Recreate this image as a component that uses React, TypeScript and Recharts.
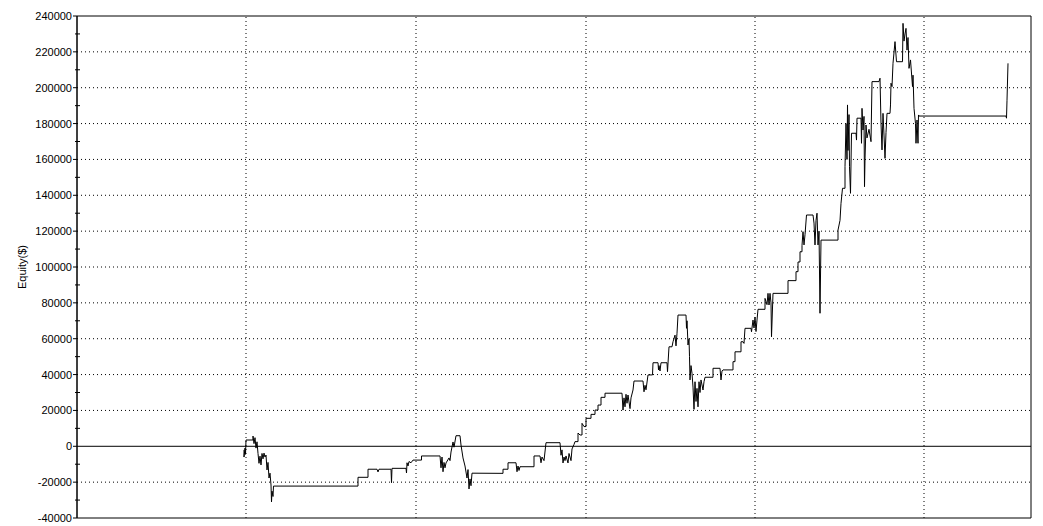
import React from 'react';
import {
  LineChart,
  Line,
  XAxis,
  YAxis,
  CartesianGrid,
  ReferenceLine,
  ReferenceArea,
} from 'recharts';

// [bar, equity $]
const equityPoints: [number, number][] = [
  [167, -2000], [167, -6000], [168, -1000], [168.5, -4500], [169, 3500], [176, 3500],
  [176, 5700], [177, 1500], [178, 4800], [179, -1000], [180, 2500], [181, -4000],
  [182, -9500], [183, -5500], [184, -10400], [185, -4000], [186, -7000], [187, -3800],
  [188, -6000], [189, -4900], [190, -13200], [191, -9000], [192, -17700], [193, -15000],
  [194, -21600], [194.5, -31000], [195, -25000], [196, -28000], [196.5, -22200],
  [281, -22200], [281, -17300], [291, -17300], [291, -12800], [300, -12800], [301, -14300],
  [302, -12800], [314, -12800], [314.5, -20300], [315, -12300], [329, -12300], [329.5, -14900],
  [330, -9200], [331, -11000], [332, -8500], [334, -9200], [336, -7700], [344.5, -7700],
  [344.5, -5400], [363, -5400], [364, -12000], [365, -6000], [366, -14200], [367, -9000],
  [368, -12000], [369, -9300], [372, -6500], [373, -8000], [374, -3200], [376, 2400],
  [377, -500], [379, 5900], [383, 5900], [384, 700], [386, -6500], [388, -11000],
  [390, -17700], [391, -13000], [392, -23800], [393, -18200], [394, -22000], [395, -15000],
  [426, -15100], [426, -12800], [431, -12800], [431, -9200], [439, -9200], [440, -14200],
  [441, -11000], [442, -13500], [443, -11400], [457, -11400], [457, -5400], [463, -5400],
  [464, -9200], [465, -6000], [467, -8000], [469, 2000], [483, 2000], [484, -5000],
  [485, -2000], [486, -9300], [487, -6000], [488, -8000], [489, -5400], [491, -9300],
  [492, -4000], [494, -8000], [495, -1500], [497, 1000], [498, 2600], [501, 2600],
  [501, 7400], [503, 6300], [505, 6300], [505, 12800], [507, 11000], [509, 11000],
  [509, 15600], [514, 15600], [514, 17800], [518, 17800], [518, 20200], [521, 20200],
  [521, 23000], [524, 23000], [524, 27300], [528, 27300], [528, 29600], [545, 29600], [546, 20200],
  [547, 27000], [548, 22000], [549, 29000], [550, 24000], [551, 28600], [553, 21000],
  [554, 27000], [556, 31400], [557, 36400], [566, 36400], [567, 30400], [568, 34000],
  [569, 31500], [571, 39800], [575.5, 39800], [576, 46600], [581, 46600], [581.5, 42600],
  [582, 45000], [583, 42000], [584, 46600], [590, 46600], [590.5, 41600], [592, 55500],
  [595, 55500], [596, 58300], [598, 62000], [599, 56000], [600, 63000], [601, 73200],
  [609, 73200], [609.5, 65800], [610, 70000], [611, 56500], [612, 60000], [612.5, 50000],
  [613, 37000], [614, 45000], [615, 40700], [616, 33000], [617, 20600], [618, 36000],
  [619, 25000], [620, 32300], [621, 22000], [622, 36000], [623, 30000], [624, 37000],
  [626, 31400], [627, 36000], [628, 38500], [636, 38500], [636, 43500], [643, 43500],
  [644, 37000], [645, 42000], [646, 42600], [656, 42600], [656, 47200], [658, 47200],
  [658, 52700], [664, 52700], [664, 58300], [666, 58300], [667, 57400], [668, 65800],
  [674, 65800], [674.5, 63900],
  [676, 70400], [677, 66000], [678, 72000], [679, 64000], [680, 70400], [681, 76400],
  [688, 76400], [688, 82500], [690, 79000], [691, 85300], [692, 78800], [693, 85300],
  [694, 80000], [694.5, 61100], [696, 85300], [711, 85300], [711, 92400], [719, 92400],
  [719, 97400], [721, 97400], [721, 102800], [723, 102800], [723, 108500], [725, 108500],
  [725, 112000], [726, 119700], [727, 112300],
  [728, 118000], [729.5, 129000], [736, 129000], [737, 124500], [738, 112300], [739, 126000],
  [740, 130000], [741, 112300], [742, 120000], [743, 74200], [744, 115000], [761, 115000],
  [761, 120600], [763, 126000], [764, 135500], [765.5, 143900], [768, 143900], [768, 156000],
  [769, 180000], [770, 160000], [770.5, 190400], [771, 165000], [772, 185000], [772.5, 156000],
  [773.5, 141100], [774.5, 174600], [779, 174600], [779.5, 170800], [780, 183000], [784, 183000],
  [784.5, 169000], [785, 188500], [786, 176400], [787, 184000], [787.5, 144800], [788, 160000],
  [789, 179200], [790, 172000], [792, 176800], [794, 169900], [795, 203400], [802, 203400],
  [803, 205300], [804, 180000], [805, 165300], [806, 185700], [807, 173600], [808, 160600],
  [809, 175000], [810, 185700], [813, 185700], [813.5, 190400], [814, 202500], [815, 200600],
  [816, 213600], [818, 225700], [819.5, 214500], [825.5, 214500], [826, 235900], [827, 226000],
  [828, 230000], [829, 233100], [830, 221000], [831, 228000], [832, 210800], [833.5, 215500],
  [835.5, 200600], [836, 207000], [837, 188500], [838.5, 180000], [839, 169000], [840, 182000],
  [841, 169000], [841.5, 184800], [842, 184200], [929, 184200], [929.5, 183000], [930, 193000],
  [931, 213600],
];

const xDomain: [number, number] = [0, 954];
const xTicks = [169, 339, 509, 678, 847];
const yTicks = [
  -40000, -30000, -20000, -10000, 0, 10000, 20000, 30000, 40000, 50000, 60000, 70000,
  80000, 90000, 100000, 110000, 120000, 130000, 140000, 150000, 160000, 170000, 180000,
  190000, 200000, 210000, 220000, 230000, 240000,
];
const gridValues = [
  -20000, 20000, 40000, 60000, 80000, 100000, 120000, 140000, 160000, 180000, 200000, 220000,
];

const data = equityPoints.map(([bar, equity]) => ({ bar, equity }));

const FONT = '"Liberation Sans", Arial, sans-serif';

const EquityTick = (props: any) => {
  const { x, y, payload } = props;
  const v = payload.value as number;
  const major = v % 20000 === 0;
  return (
    <g>
      {major ? (
        <line x1={x - 4} x2={x} y1={y} y2={y} stroke="#000" />
      ) : (
        <line x1={x - 2} x2={x + 3} y1={y} y2={y} stroke="#000" />
      )}
      {major && (
        <text x={x - 5} y={y} dy={4} textAnchor="end" fontSize={11} fontFamily={FONT} fill="#000">
          {v}
        </text>
      )}
    </g>
  );
};

export default function App() {
  return (
    <div style={{ width: 1043, height: 526, background: '#fff' }}>
      <style>{'body{margin:0}'}</style>
      <LineChart
        width={1043}
        height={526}
        data={data}
        margin={{ top: 16, right: 12, bottom: 8, left: 0 }}
      >
        <CartesianGrid
          stroke="#000"
          strokeDasharray="1 3"
          vertical={false}
          horizontalValues={gridValues}
        />
        <XAxis
          dataKey="bar"
          type="number"
          domain={xDomain}
          ticks={xTicks}
          tick={false}
          tickLine={false}
          axisLine={false}
          height={0}
        />
        <YAxis
          type="number"
          domain={[-40000, 240000]}
          ticks={yTicks}
          interval={0}
          width={77}
          tickSize={0}
          tickMargin={0}
          tickLine={false}
          axisLine={{ stroke: '#000' }}
          tick={<EquityTick />}
          label={{
            content: () => (
              <text
                x={22}
                y={267}
                transform="rotate(-90 22 267)"
                textAnchor="middle"
                dominantBaseline="central"
                fontSize={11}
                fontFamily={FONT}
                fill="#000"
              >
                Equity($)
              </text>
            ),
          }}
        />
        {xTicks.map((t) => (
          <ReferenceLine key={t} x={t} stroke="#000" strokeDasharray="1 3" />
        ))}
        <ReferenceArea
          x1={xDomain[0]}
          x2={xDomain[1]}
          y1={-40000}
          y2={240000}
          fill="none"
          fillOpacity={0}
          stroke="#000"
          strokeWidth={1}
        />
        <ReferenceLine y={0} stroke="#000" strokeWidth={1} />
        <Line
          type="linear"
          dataKey="equity"
          stroke="#000"
          strokeWidth={1}
          dot={false}
          activeDot={false}
          isAnimationActive={false}
        />
      </LineChart>
    </div>
  );
}
